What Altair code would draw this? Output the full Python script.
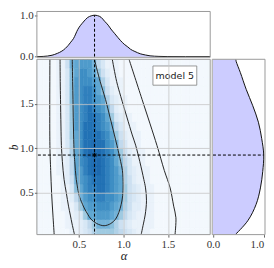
import altair as alt
import pandas as pd

# ---------------- values ----------------
alpha_range = [0.03, 1.975]
b_range = [0.03, 2.0]
best_alpha = 0.677
best_b = 0.924
label_text = "model 5"

# 2-D likelihood map, one hex string per b-row (b = 0.05 ... 1.95, step 0.1, bottom first),
# one character per alpha column (alpha = 0.025 ... 1.975, step 0.05); 0 = nothing, f = peak
heat_rows = [
    "00000000112346777765432111",
    "000000011123579998643211111",
    "000000011237aabbba975321111",
    "00000011137abbcccba96422111",
    "00000011259bccddccba7432111",
    "0000001138acddeedcba7432111",
    "0000001249bcdeeedcba642111",
    "000001125abdeffedcb9632111",
    "000001125acdeffedca853111",
    "000001126acefffedca742111",
    "000001136aceefeecb953111",
    "000001137aceeeedca742111",
    "000001137bceeedcb953111",
    "000001137bcdeedca73211",
    "000001137bcdedcb95211",
    "000001138bcddcba63211",
    "000001138bcddca84211",
    "000001138bcccba63111",
    "000001138accba74211",
    "000001149abbb953111",
]

# top marginal (alpha)
top_alpha = [0.03, 0.10, 0.20, 0.26, 0.31, 0.35, 0.38, 0.41, 0.44, 0.49, 0.55, 0.60, 0.64,
             0.677, 0.71, 0.75, 0.79, 0.83, 0.86, 0.90, 0.94, 0.97, 1.01, 1.05, 1.08, 1.13,
             1.19, 1.25, 1.30, 1.40, 1.50, 1.70, 1.975]
top_val = [0.0, 0.006, 0.035, 0.08, 0.134, 0.2, 0.268, 0.35, 0.434, 0.66, 0.834, 0.945, 0.985,
           1.0, 0.99, 0.95, 0.854, 0.76, 0.668, 0.565, 0.46, 0.385, 0.30, 0.235, 0.18, 0.125,
           0.07, 0.04, 0.02, 0.007, 0.002, 0.0, 0.0]

# right marginal (b)
right_b = [2.0, 1.976, 1.85, 1.663, 1.478, 1.293, 1.109, 0.924, 0.739, 0.555, 0.37, 0.186, 0.03]
right_val = [0.45, 0.457, 0.54, 0.654, 0.784, 0.895, 0.96, 1.0, 0.98, 0.935, 0.85, 0.686, 0.44]

# contour branches
c1_alpha = [0.427, 0.431, 0.435, 0.438, 0.442, 0.448, 0.455, 0.462, 0.472, 0.487, 0.51, 0.53,
            0.56, 0.60, 0.637, 0.70, 0.784, 0.86, 0.913, 0.95, 0.976, 0.993, 0.998, 0.99,
            0.97, 0.954, 0.90, 0.85, 0.80, 0.74, 0.675]
c1_b = [2.00, 1.75, 1.55, 1.35, 1.15, 0.95, 0.85, 0.75, 0.65, 0.55, 0.45, 0.40,
        0.33, 0.26, 0.204, 0.155, 0.13, 0.155, 0.204, 0.28, 0.37, 0.47, 0.59, 0.75,
        0.85, 0.924, 1.15, 1.35, 1.55, 1.75, 2.00]
c2l_alpha = [0.29, 0.292, 0.295, 0.30, 0.305, 0.316, 0.335, 0.36, 0.385, 0.405, 0.425, 0.452]
c2l_b = [2.0, 1.75, 1.55, 1.25, 1.03, 0.85, 0.65, 0.5, 0.35, 0.25, 0.15, 0.03]
c2r_alpha = [0.876, 0.925, 0.972, 1.04, 1.10, 1.138, 1.185, 1.23, 1.249, 1.26, 1.245, 1.225, 1.20]
c2r_b = [2.0, 1.75, 1.58, 1.35, 1.15, 1.035, 0.85, 0.65, 0.555, 0.41, 0.25, 0.15, 0.03]
c3l_alpha = [0.176, 0.176, 0.185, 0.195, 0.21, 0.224]
c3l_b = [2.0, 1.03, 0.75, 0.5, 0.25, 0.03]
c3r_alpha = [1.064, 1.21, 1.378, 1.46, 1.525, 1.565, 1.59, 1.58]
c3r_b = [2.0, 1.55, 1.03, 0.75, 0.555, 0.35, 0.22, 0.03]

# ---------------- tables ----------------
heat = []
for j, row in enumerate(heat_rows):
    row = row.ljust(40, "0")
    for i, ch in enumerate(row):
        heat.append({"a0": 0.05 * i, "a1": 0.05 * (i + 1),
                     "b0": 0.1 * j, "b1": 0.1 * (j + 1), "lev": int(ch, 16)})
heat_df = pd.DataFrame(heat)

cont = []
for name, xa, yb in [("c1", c1_alpha, c1_b), ("c2l", c2l_alpha, c2l_b),
                     ("c2r", c2r_alpha, c2r_b), ("c3l", c3l_alpha, c3l_b),
                     ("c3r", c3r_alpha, c3r_b)]:
    for k, (a, bb) in enumerate(zip(xa, yb)):
        cont.append({"branch": name, "seq": k, "a": a, "b": bb})
cont_df = pd.DataFrame(cont)

top_df = pd.DataFrame({"a": top_alpha, "v": top_val})
right_df = pd.DataFrame({"b": right_b, "v": right_val})
best_df = pd.DataFrame({"a": [best_alpha], "b": [best_b]})
one = pd.DataFrame({"z": [0]})

# ---------------- styling ----------------
MAIN_W, MAIN_H = 174, 176
TOP_H, SIDE_W = 46, 53
SERIF = "Liberation Serif"
FRAME = "#9a9a9a"
FILL = "#ccccff"

lab = dict(labelFont=SERIF, labelFontSize=11, labelColor="#333333", labelPadding=1.2,
           tickColor="#666666", tickSize=2.5, domain=False, format=".1f")
ttl = dict(titleFont=SERIF, titleFontStyle="italic", titleFontWeight="normal",
           titleColor="#222222")

xs = alt.Scale(domain=alpha_range, nice=False, zero=False)
ys = alt.Scale(domain=b_range, nice=False, zero=False)
main_x_axis = alt.Axis(title="α", values=[0.5, 1.0, 1.5], grid=True, gridColor="#c6c6c6",
                       gridWidth=0.8, zindex=1, titleFontSize=12.5, titlePadding=0.5, **lab, **ttl)
main_y_axis = alt.Axis(title="b", values=[0.5, 1.0, 1.5], grid=True, gridColor="#c6c6c6",
                       gridWidth=0.8, zindex=1, titleFontSize=11.5, titlePadding=0, **lab, **ttl)

lev_scale = alt.Scale(domain=[0, 2.34, 4.69, 7.03, 9.375, 11.72, 14.06, 15],
                      range=["#f3f8fd", "#deebf7", "#c6dbef", "#9ecae1", "#6baed6",
                             "#4292c6", "#2171b5", "#1d69af"], interpolate="rgb")

X = lambda f: alt.X(f, type="quantitative", scale=xs, axis=main_x_axis)
Y = lambda f: alt.Y(f, type="quantitative", scale=ys, axis=main_y_axis)

def frame(w, h):
    return alt.Chart(one).mark_rect(fillOpacity=0, stroke=FRAME, strokeWidth=1).encode(
        x=alt.value(0), x2=alt.value(w), y=alt.value(0), y2=alt.value(h))

# ---------------- main panel ----------------
heat_layer = alt.Chart(heat_df).mark_rect(clip=True, strokeWidth=0.6).encode(
    x=X("a0"), x2="a1", y=Y("b0"), y2="b1",
    color=alt.Color("lev:Q", scale=lev_scale, legend=None),
    stroke=alt.Stroke("lev:Q", scale=lev_scale, legend=None))

cont_layer = alt.Chart(cont_df).mark_line(clip=True, color="#262626", strokeWidth=1,
                                          interpolate="catmull-rom").encode(
    x=X("a"), y=Y("b"), detail="branch:N", order="seq:Q")

vrule = alt.Chart(best_df).mark_rule(color="black", strokeWidth=1, strokeDash=[3, 2]).encode(x=X("a"))
hrule = alt.Chart(best_df).mark_rule(color="black", strokeWidth=1, strokeDash=[3, 2]).encode(y=Y("b"))
star = alt.Chart(best_df).mark_point(
    shape="M-1,0L1,0M0,-1L0,1M-0.7,-0.7L0.7,0.7M-0.7,0.7L0.7,-0.7",
    filled=False, color="black", size=22, strokeWidth=0.9, opacity=1).encode(x=X("a"), y=Y("b"))

box = alt.Chart(one).mark_rect(fill="white", stroke="#808080", strokeWidth=0.8).encode(
    x=alt.value(MAIN_W - 57.5), x2=alt.value(MAIN_W - 13.5), y=alt.value(6.7), y2=alt.value(26))
txt = alt.Chart(one).mark_text(text=label_text, font="DejaVu Sans", fontSize=9.5, color="#222222",
                               align="center", baseline="middle").encode(
    x=alt.value(MAIN_W - 35.5), y=alt.value(16.5))

main = alt.layer(heat_layer, cont_layer, vrule, hrule, star, box, txt, frame(MAIN_W, MAIN_H)).properties(
    width=MAIN_W, height=MAIN_H)

# ---------------- top marginal ----------------
tys = alt.Scale(domain=[-0.015, 1.09], nice=False, zero=False)
top_y_axis = alt.Axis(title=None, values=[0, 0.5, 1.0], grid=False, **lab)
top_area = alt.Chart(top_df).mark_area(color=FILL, opacity=1, clip=True, interpolate="monotone").encode(
    x=alt.X("a:Q", scale=xs, axis=None), y=alt.Y("v:Q", scale=tys, axis=top_y_axis), y2=alt.datum(0))
top_line = alt.Chart(top_df).mark_line(color="#111111", strokeWidth=1, clip=True, interpolate="monotone").encode(
    x=alt.X("a:Q", scale=xs, axis=None), y=alt.Y("v:Q", scale=tys, axis=top_y_axis))
top_rule = alt.Chart(best_df).mark_rule(color="black", strokeWidth=1, strokeDash=[3, 2]).encode(
    x=alt.X("a:Q", scale=xs, axis=None), y=alt.datum(0), y2=alt.datum(1.0))
top = alt.layer(top_area, top_line, top_rule, frame(MAIN_W, TOP_H)).properties(width=MAIN_W, height=TOP_H)

# ---------------- right marginal ----------------
rxs = alt.Scale(domain=[-0.015, 1.025], nice=False, zero=False)
right_x_axis = alt.Axis(
    title=None, values=[0, 0.5, 1.0], grid=False,
    labelAlign={"condition": {"test": "datum.value >= 1", "value": "right"}, "value": "center"},
    **lab)
right_area = alt.Chart(right_df).mark_area(color=FILL, opacity=1, clip=True, orient="horizontal",
                                           interpolate="catmull-rom").encode(
    y=alt.Y("b:Q", scale=ys, axis=None), x=alt.X("v:Q", scale=rxs, axis=right_x_axis), x2=alt.datum(0))
right_line = alt.Chart(right_df).mark_line(color="#111111", strokeWidth=1, clip=True,
                                           interpolate="catmull-rom").encode(
    y=alt.Y("b:Q", scale=ys, axis=None), x=alt.X("v:Q", scale=rxs, axis=right_x_axis), order="b:Q")
right_rule = alt.Chart(best_df).mark_rule(color="black", strokeWidth=1, strokeDash=[3, 2]).encode(
    y=alt.Y("b:Q", scale=ys, axis=None), x=alt.datum(0), x2=alt.datum(1.0))
right = alt.layer(right_area, right_line, right_rule, frame(SIDE_W, MAIN_H)).properties(
    width=SIDE_W, height=MAIN_H)

empty = alt.Chart(one).mark_point(opacity=0).encode(
    x=alt.X("z:Q", axis=None), y=alt.Y("z:Q", axis=None)).properties(width=SIDE_W, height=TOP_H)

chart = alt.concat(top, empty, main, right, columns=2, spacing=2, bounds="flush", align="each").properties(
    padding=0, background="white"
).configure_view(stroke=None)

chart.save("out.html", embed_options={"renderer": "svg", "actions": False})
